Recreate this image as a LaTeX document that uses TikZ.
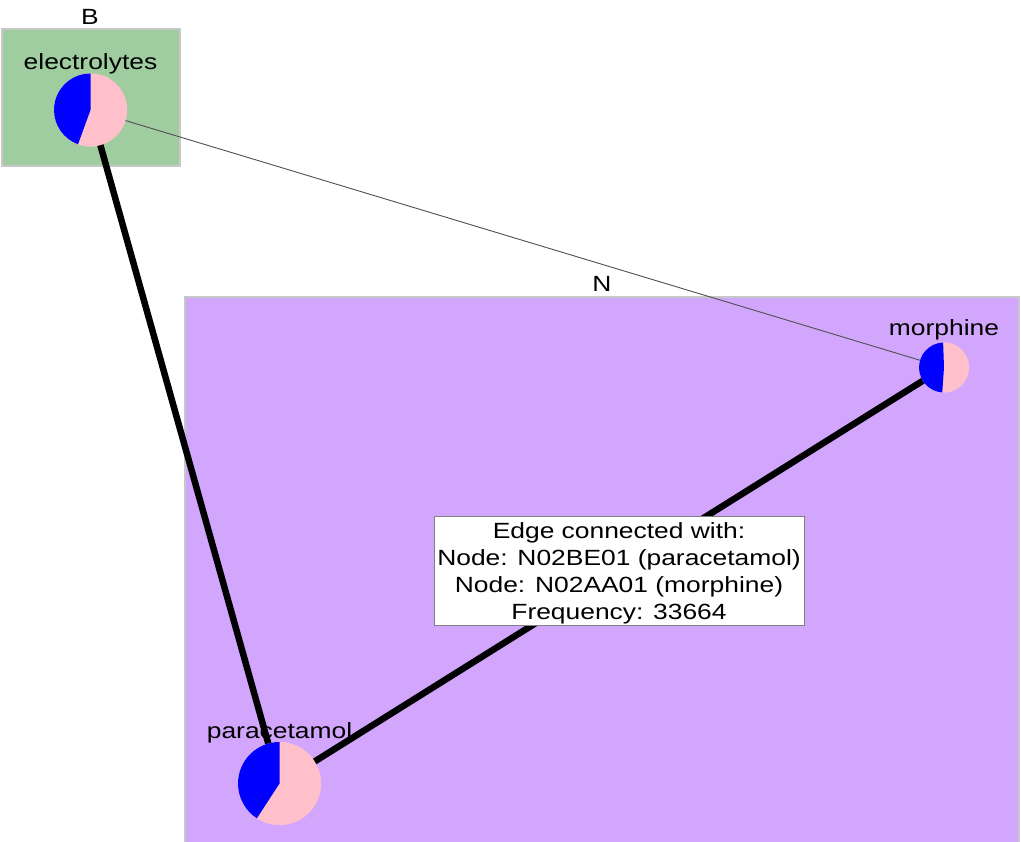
\documentclass[tikz,border=0pt]{standalone}
\usepackage{fontspec}
\setmainfont[FakeStretch=1.2]{Liberation Sans}
\definecolor{grpB}{RGB}{160,205,160}
\definecolor{grpN}{RGB}{209,166,252}
\definecolor{pinkpie}{RGB}{255,192,203}
\definecolor{pieblue}{RGB}{0,0,255}
\definecolor{boxline}{RGB}{200,200,200}
\definecolor{thinedge}{RGB}{80,80,80}
\begin{document}
\begin{tikzpicture}[x=1pt,y=1pt,
  txt/.style={font=\fontsize{22}{27}\selectfont, inner sep=0pt, anchor=base},
  group/.style={draw=boxline, line width=1.2pt},
  thick edge/.style={line width=6.5pt, black},
  thin edge/.style={line width=0.9pt, thinedge},
  pie/.style={circle, fill=pinkpie, inner sep=0pt, minimum size=#1},
]
\useasboundingbox (0,0) rectangle (1021,-842);
\fill[white] (0,0) rectangle (1021,-842);
% groups
\node[group, fill=grpB, minimum width=178, minimum height=137, inner sep=0pt] (boxB) at (91,-97.5) {};
\node[group, fill=grpN, minimum width=834, minimum height=560, inner sep=0pt] (boxN) at (602,-577) {};
\node[txt] (labB) at (90,-25) {B};
\node[txt] (labN) at (602,-292) {N};
% pie nodes
\node[pie=73] (el) at (90.5,-110) {};
\node[pie=50] (mo) at (944,-367.5) {};
\node[pie=83] (pa) at (279.5,-783.5) {};
% edges
\draw[thin edge] (el.center) -- (mo.center);
\draw[thick edge] (el.center) -- (pa.center);
\draw[thick edge] (pa.center) -- (mo.center);
% pies on top
\fill[pinkpie] (el.center) circle[radius=36.5];
\fill[pieblue] (el.center) -- ++(90:36.5) arc[start angle=90, end angle=250, radius=36.5] -- cycle;
\fill[pinkpie] (mo.center) circle[radius=25];
\fill[pieblue] (mo.center) -- ++(92:25) arc[start angle=92, end angle=266, radius=25] -- cycle;
\fill[pinkpie] (pa.center) circle[radius=41.5];
\fill[pieblue] (pa.center) -- ++(90:41.5) arc[start angle=90, end angle=237, radius=41.5] -- cycle;
% labels
\node[txt] (elL) at (90.5,-70) {electrolytes};
\node[txt] (moL) at (944,-336) {morphine};
\node[txt] (paL) at (279.5,-738) {paracetamol};
% tooltip
\node[draw=gray, fill=white, line width=0.8pt, minimum width=370, minimum height=109, inner sep=0pt] (tipbox) at (619,-570.5) {};
\node[font=\fontsize{22}{27}\selectfont, align=center, inner sep=0pt] (tip) at (619,-573.5) {Edge connected with:\\Node: N02BE01 (paracetamol)\\Node: N02AA01 (morphine)\\Frequency: 33664};
\end{tikzpicture}
\end{document}
